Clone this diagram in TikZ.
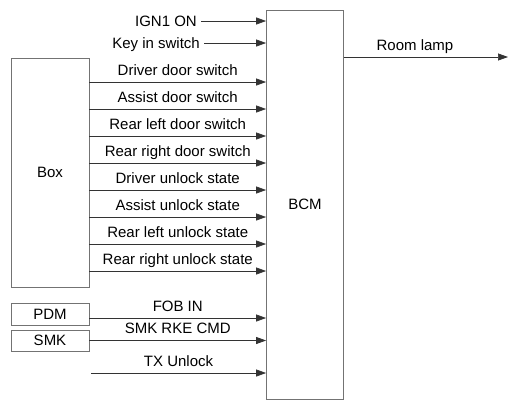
\documentclass[tikz,border=0pt]{standalone}
\usepackage{fontspec}
\setmainfont{Liberation Sans}
\usepackage{tikz}
\usetikzlibrary{arrows.meta,positioning,calc}

\begin{document}
\begin{tikzpicture}[x=1pt,y=-1pt,font=\fontsize{15}{17}\selectfont]
\tikzstyle{every node}+=[inner sep=0pt]
\tikzstyle{blk}=[draw=black!55, line width=0.8pt]
\tikzstyle{sig}=[draw=black!80, line width=0.7pt, -{Triangle[length=10pt,width=7pt]}]
\tikzstyle{lbl}=[anchor=base, yshift=7pt]
\tikzstyle{inlbl}=[anchor=base east, xshift=-4pt, yshift=-5pt]
\useasboundingbox (0,0) rectangle (519,410);
% blocks
\node [blk, minimum width=77pt, minimum height=389pt] (bcm) at (305,204.5) {BCM};
\node [blk, minimum width=78pt, minimum height=229pt] (box) at (50,172.5) {Box};
\node [blk, minimum width=78pt, minimum height=22pt] (pdm) at (50,314) {PDM};
\node [blk, minimum width=78pt, minimum height=21pt] (smk) at (50,340.5) {SMK};
% inputs from the box
\foreach \y/\txt in {82/Driver door switch, 109/Assist door switch,
  136/Rear left door switch, 163/Rear right door switch,
  190/Driver unlock state, 217/Assist unlock state,
  244/Rear left unlock state, 271/Rear right unlock state}
  \draw [sig] (box.east |- 0,\y) -- node [lbl] {\txt} (bcm.west |- 0,\y);
% other inputs
\coordinate (ign) at (201,21);
\coordinate (key) at (204,43);
\coordinate (tx) at (91,373);
\draw [sig] (ign) -- (bcm.west |- ign);
\node [inlbl] at (ign) {IGN1 ON};
\draw [sig] (key) -- (bcm.west |- key);
\node [inlbl] at (key) {Key in switch};
\draw [sig] (pdm.east |- 0,318) -- node [lbl] {FOB IN} (bcm.west |- 0,318);
\draw [sig] (smk) -- node [lbl] {SMK RKE CMD} (bcm.west |- smk);
\draw [sig] (tx) -- node [lbl] {TX Unlock} (bcm.west |- tx);
% output
\coordinate (lamp) at (508,57);
\draw [sig] (bcm.east |- lamp) -- node [lbl, xshift=-11pt] {Room lamp} (lamp);
\end{tikzpicture}
\end{document}
